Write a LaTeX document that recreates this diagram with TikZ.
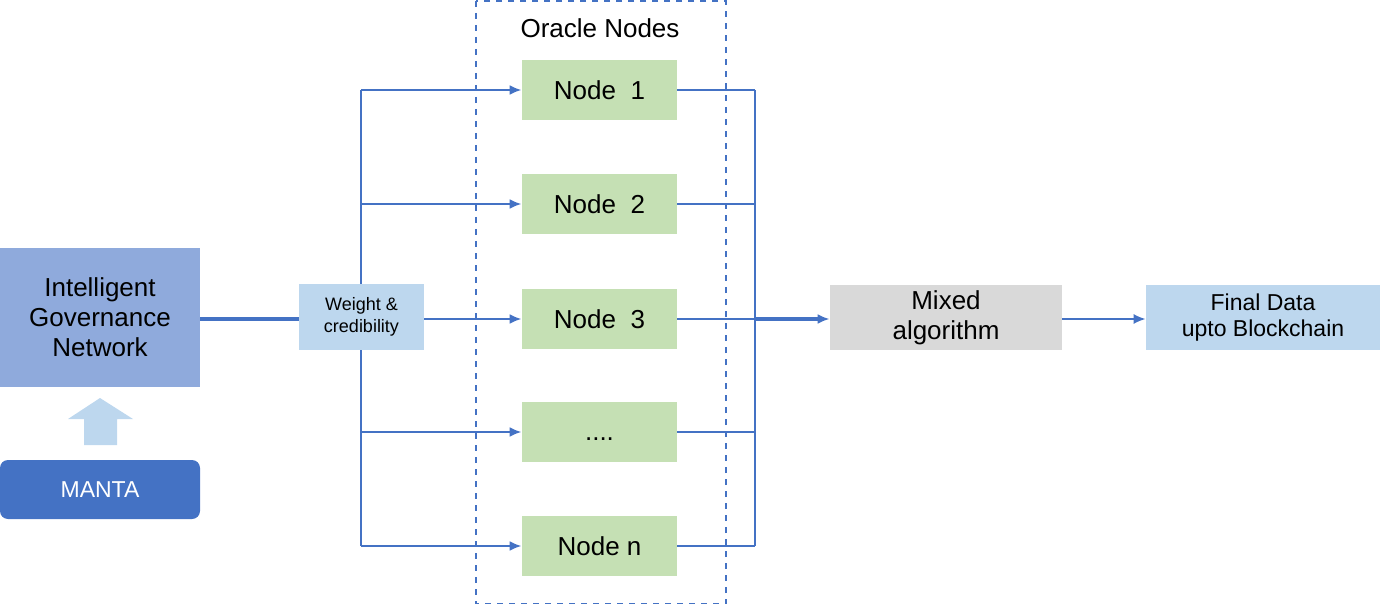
\documentclass[tikz,border=0pt]{standalone}
\usepackage{fontspec}
\setmainfont{Liberation Sans}
\usetikzlibrary{arrows.meta}
\definecolor{ln}{RGB}{68,114,196}
\definecolor{ign}{RGB}{143,170,220}
\definecolor{lb}{RGB}{189,215,238}
\definecolor{gn}{RGB}{197,224,180}
\definecolor{gy}{RGB}{217,217,217}
\begin{document}
\begin{tikzpicture}[x=0.5pt,y=-0.5pt,
  box/.style={draw=none,inner sep=0pt,align=center,font=\fontsize{13}{15}\selectfont},
  nd/.style={box,fill=gn,minimum width=77.5pt,minimum height=30pt},
  con/.style={draw=ln,line width=1.2pt},
  arr/.style={con,-{Latex[length=6pt,width=5pt]}}]
\useasboundingbox (0,0) rectangle (1380,604);
\draw[dashed,draw=ln,line width=0.6pt] (476,1) rectangle (726,604);
\node[box] (title) at (600,28) {Oracle Nodes};
\node[box,fill=ign,minimum width=100pt,minimum height=69.5pt] (ign) at (100,317.5) {Intelligent\\Governance\\Network};
\node[box,fill=ln,text=white,rounded corners=4pt,minimum width=100pt,minimum height=29.5pt,font=\fontsize{11.5}{13}\selectfont] (manta) at (100,489.5) {MANTA};
\fill[lb] (100,398) -- (133,419) -- (117,419) -- (117,445) -- (84,445) -- (84,419) -- (68,419) -- cycle;
\node[box,fill=lb,minimum width=62.5pt,minimum height=33pt,font=\fontsize{9}{11}\selectfont] (w) at (361.5,317) {Weight \&\\credibility};
\foreach \i/\y/\t in {1/90/{Node\ \ 1},2/204/{Node\ \ 2},3/319/{Node\ \ 3},4/432/{\vphantom{N}....},5/546/{Node n}}
  \node[nd] (n\i) at (599.5,\y) {\t};
\node[box,fill=gy,minimum width=116pt,minimum height=32.5pt] (mix) at (946,317.5) {Mixed\\algorithm};
\node[box,fill=lb,minimum width=117pt,minimum height=32.5pt,font=\fontsize{11.5}{13}\selectfont] (fin) at (1263,317.5) {Final Data\\upto Blockchain};
\coordinate (vl1) at (361,90); \coordinate (vl5) at (361,546);
\coordinate (vr1) at (755,90); \coordinate (vr5) at (755,546);
\coordinate (vr3) at (755,319);
\draw[con,line width=1.8pt] (ign.east |- 0,319) -- (w.west |- 0,319);
\draw[con] (vl1) -- (w.north -| vl1) (w.south -| vl1) -- (vl5);
\foreach \i in {1,2,4,5} \draw[arr] (n\i.west -| vl1) -- (n\i.west);
\draw[arr] (w.east |- n3) -- (n3.west);
\draw[con] (vr1) -- (vr5);
\foreach \i in {1,...,5} \draw[con] (n\i.east) -- (n\i.east -| vr1);
\draw[arr,line width=1.8pt] (vr3) -- (mix.west |- vr3);
\draw[arr,line width=0.8pt] (mix.east |- vr3) -- (fin.west |- vr3);
\end{tikzpicture}
\end{document}
